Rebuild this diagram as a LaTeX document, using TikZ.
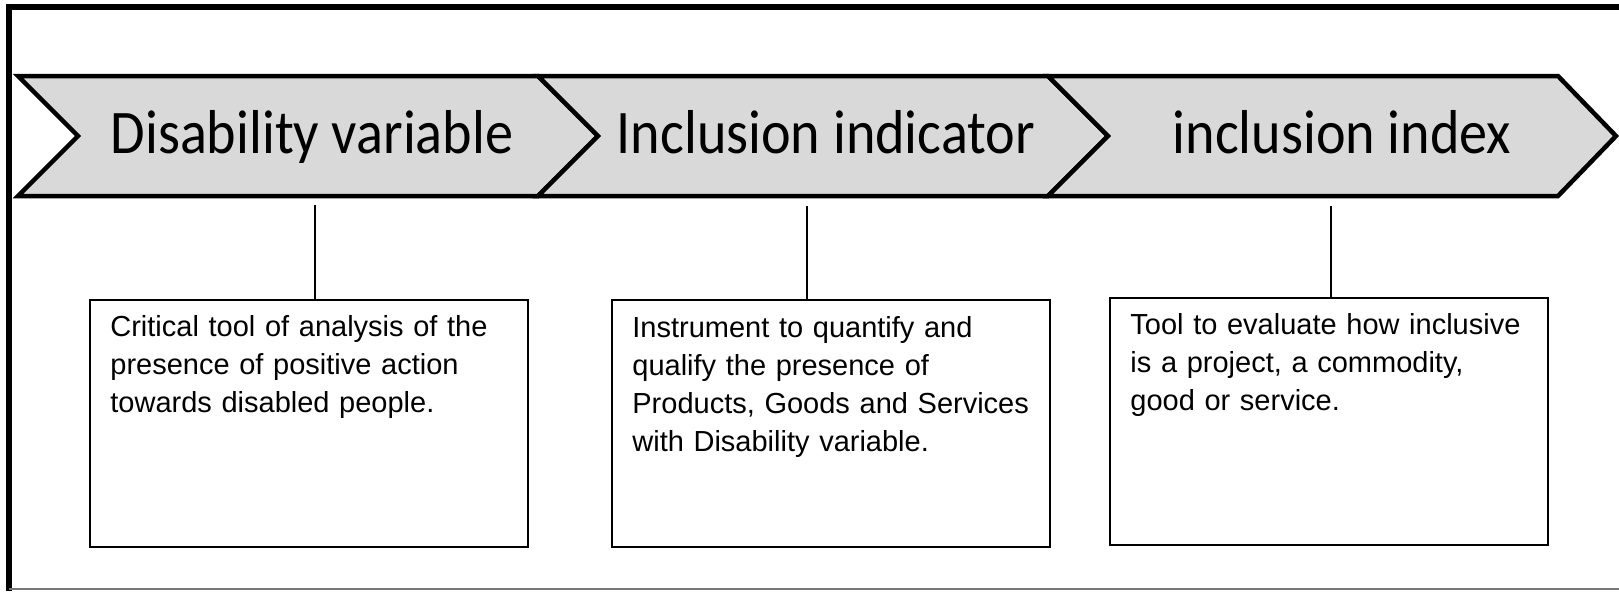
\documentclass[tikz,border=0pt]{standalone}
\usepackage{fontspec}
\setmainfont{Liberation Sans}
\newfontfamily\chevfont[FakeStretch=0.906]{Carlito}
\definecolor{chevgray}{RGB}{217,217,217}
\definecolor{framegray}{RGB}{120,120,120}
\begin{document}
\begin{tikzpicture}[x=0.5pt,y=-0.5pt,
  chev/.style={fill=chevgray, draw=black, line width=2.25pt, line join=miter},
  chevlabel/.style={anchor=base, inner sep=0pt, font=\chevfont\fontsize{31pt}{31pt}\selectfont},
  descbox/.style={draw=black, line width=1pt, inner sep=0pt, anchor=north west, minimum width=219pt, minimum height=123.5pt},
  desctext/.style={anchor=base west, inner sep=0pt, text width=215pt, align=left, font=\fontsize{14.5pt}{19pt}\selectfont},
  link/.style={draw=black, line width=0.75pt},
  frameline/.style={draw=black, line width=3pt, line join=miter}
]
\useasboundingbox (0,0) rectangle (1619,591);
% frame
\draw[frameline] (1619,7) -- (9,7) -- (9,591);
\draw[framegray, line width=0.75pt] (9,589) -- (1619,589);
% chevrons
\draw[chev] (18,76) -- (538,76) -- (598,136) -- (538,196) -- (18,196) -- (78,136) -- cycle;
\draw[chev] (538,76) -- (1048,76) -- (1108,136) -- (1048,196) -- (538,196) -- (598,136) -- cycle;
\draw[chev] (1048,76) -- (1558,76) -- (1616,136) -- (1558,196) -- (1048,196) -- (1108,136) -- cycle;
\node[chevlabel] (c1) at (312,153) {Disability variable};
\node[chevlabel] (c2) at (826,153) {Inclusion indicator};
\node[chevlabel] (c3) at (1342,153) {inclusion index};
% boxes
\node[descbox] (b1) at (89,299) {};
\node[descbox] (b2) at (611,299) {};
\node[descbox] (b3) at (1109,297) {};
\node[desctext] (t1) at (110,336) {Critical tool of analysis of the\\presence of positive action\\towards disabled people.};
\node[desctext] (t2) at (632,337) {Instrument to quantify and\\qualify the presence of\\Products, Goods and Services\\with Disability variable.};
\node[desctext] (t3) at (1130,334) {Tool to evaluate how inclusive\\is a project, a commodity,\\good or service.};
% connectors
\coordinate (s1) at (315,205);
\coordinate (s2) at (807,206);
\coordinate (s3) at (1331,206);
\draw[link] (s1) -- (s1 |- b1.north);
\draw[link] (s2) -- (s2 |- b2.north);
\draw[link] (s3) -- (s3 |- b3.north);
\end{tikzpicture}
\end{document}
